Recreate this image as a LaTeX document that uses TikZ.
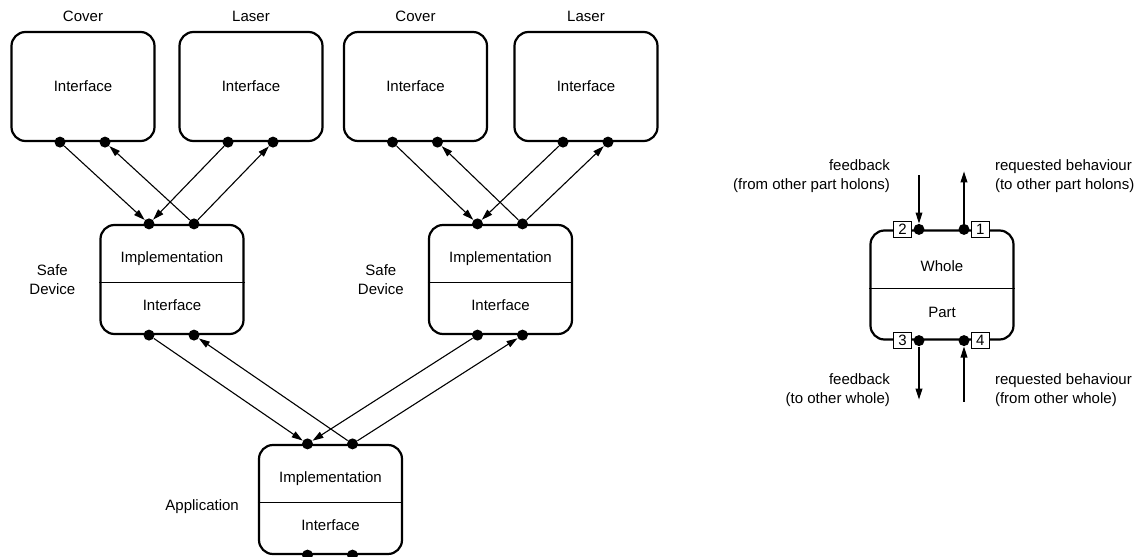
\documentclass[tikz,border=0pt]{standalone}
\usepackage{fontspec}
\setmainfont{Liberation Sans}
\usetikzlibrary{arrows.meta, positioning, calc}

\tikzset{
  holon/.style={draw, line width=1.1pt, rounded corners=7pt, minimum width=71.5pt, minimum height=54.5pt, inner sep=0pt},
  port/.style={circle, fill, inner sep=0pt, minimum size=5.5pt},
  flow/.style={line width=0.55pt, -{Triangle[length=5.5pt, width=3.4pt]}},
  portnum/.style={draw, fill=white, line width=0.5pt, inner sep=0pt, minimum width=9pt, minimum height=8pt},
  divider/.style={line width=0.4pt},
}

\begin{document}
\begin{tikzpicture}[x=0.5pt, y=-0.5pt, font=\fontsize{7.5}{9.5}\selectfont]
    \useasboundingbox (0,0) rectangle (1148,557);

    % Interface-only holons
    \node[holon] (cov1) at (83,86.5) {Interface};
    \node[holon] (las1) at (251,86.5) {Interface};
    \node[holon] (cov2) at (415.5,86.5) {Interface};
    \node[holon] (las2) at (586,86.5) {Interface};
    \foreach \b/\t in {cov1/Cover, las1/Laser, cov2/Cover, las2/Laser} {
        \node[above=1.25pt of \b] (\b-name) {\t};
    }

    % Holons with implementation and interface
    \node[holon] (sd1) at (172,279.5) {};
    \node[holon] (sd2) at (500.5,279.5) {};
    \node[holon] (app) at (330.5,499.5) {};
    \foreach \b in {sd1, sd2, app} {
        \draw[divider] ([yshift=-1.5pt]\b.west) -- ([yshift=-1.5pt]\b.east);
        \node (\b-impl) at ($(\b.center)+(0,-20.5)$) {Implementation};
        \node (\b-intf) at ($(\b.center)+(0,25.5)$) {Interface};
    }
    \node[left=8.5pt of sd1, align=center] (sd1-name) {Safe\\Device};
    \node[left=8.5pt of sd2, align=center] (sd2-name) {Safe\\Device};
    \node[left=6pt of app, yshift=-3.5pt] (app-name) {Application};

    % Legend holon
    \node[holon] (whole) at (942,285) {};
    \draw[divider] ([yshift=-1.5pt]whole.west) -- ([yshift=-1.5pt]whole.east);
    \node (whole-top) at ($(whole.center)+(0,-19)$) {Whole};
    \node (whole-bot) at ($(whole.center)+(0,27)$) {Part};

    % Ports
    \foreach \b in {cov1, las1, cov2, las2, sd1, sd2, app, whole} {
        \node[port] (\b-p3) at ($(\b.south)+(-23,0)$) {};
        \node[port] (\b-p4) at ($(\b.south)+(22,0)$) {};
    }
    \foreach \b in {sd1, sd2, app, whole} {
        \node[port] (\b-p2) at ($(\b.north)+(-23,0)$) {};
        \node[port] (\b-p1) at ($(\b.north)+(22,0)$) {};
    }

    % Flows between holons
    \foreach \s/\p in {sd1/cov1, sd1/las1, sd2/cov2, sd2/las2, app/sd1, app/sd2} {
        \draw[flow] (\p-p3) -- (\s-p2);
        \draw[flow] (\s-p1) -- (\p-p4);
    }

    % Legend port numbers
    \node[portnum, left=0.5pt of whole-p2] (whole-n2) {2};
    \node[portnum, right=0.5pt of whole-p1] (whole-n1) {1};
    \node[portnum, left=0.5pt of whole-p3] (whole-n3) {3};
    \node[portnum, right=0.5pt of whole-p4] (whole-n4) {4};

    % Legend flows
    \coordinate (fb-in) at ($(whole-p2)+(0,-54)$);
    \coordinate (rb-out) at ($(whole-p1)+(0,-58)$);
    \coordinate (fb-out) at ($(whole-p3)+(0,59)$);
    \coordinate (rb-in) at ($(whole-p4)+(0,61)$);
    \draw[flow] (fb-in) -- (whole-p2);
    \draw[flow] (whole-p1) -- (rb-out);
    \draw[flow] (whole-p3) -- (fb-out);
    \draw[flow] (rb-in) -- (whole-p4);

    \node[anchor=east, align=right] (fb-in-lbl) at ($(fb-in)+(-22,1)$) {feedback\\(from other part holons)};
    \node[anchor=west, align=left] (rb-out-lbl) at ($(rb-out)+(24,5)$) {requested behaviour\\(to other part holons)};
    \node[anchor=east, align=right] (fb-out-lbl) at ($(fb-out)+(-22,-9)$) {feedback\\(to other whole)};
    \node[anchor=west, align=left] (rb-in-lbl) at ($(rb-in)+(24,-11)$) {requested behaviour\\(from other whole)};
\end{tikzpicture}
\end{document}
